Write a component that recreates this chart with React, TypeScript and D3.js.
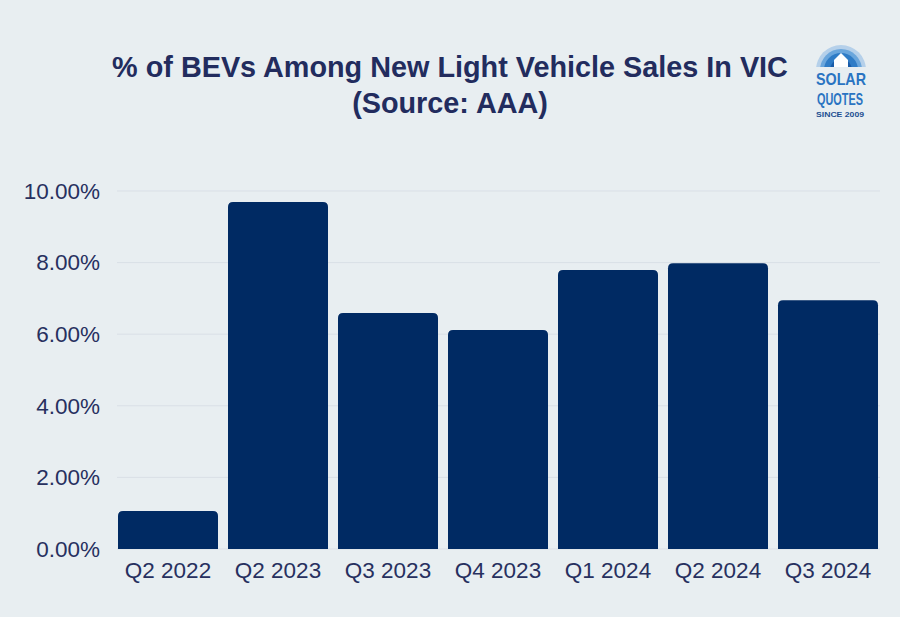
import React from "react";
import * as d3 from "d3";

const categories = ["Q2 2022", "Q2 2023", "Q3 2023", "Q4 2023", "Q1 2024", "Q2 2024", "Q3 2024"];
const values = [1.06, 9.69, 6.59, 6.12, 7.79, 7.98, 6.95];
const yTicks = [0, 2, 4, 6, 8, 10];
const titleLines = ["% of BEVs Among New Light Vehicle Sales In VIC", "(Source: AAA)"];

const W = 900, H = 617;
const BG = "#e8eef1";
const BAR = "#002a63";
const TXT = "#27305f";

function roundedTopBar(x: number, y: number, w: number, h: number, r: number) {
  const rr = Math.min(r, h / 2, w / 2);
  return `M${x},${y + h}V${y + rr}Q${x},${y} ${x + rr},${y}H${x + w - rr}Q${x + w},${y} ${x + w},${y + rr}V${y + h}Z`;
}

export default function App() {
  const x = d3.scaleBand<string>().domain(categories).range([113, 883]).paddingInner(10 / 110).paddingOuter(5 / 110);
  const y = d3.scaleLinear().domain([0, 10]).range([549, 191]);
  return (
    <svg width={W} height={H} style={{ position: "absolute", left: 0, top: 0, display: "block" }}>
      <rect x={0} y={0} width={W} height={H} fill={BG} />
      {titleLines.map((t, i) => (
        <text key={i} x={450} y={77 + i * 36} textAnchor="middle" fontFamily="Liberation Sans, Arial, sans-serif" fontWeight="bold" fontSize={28.8} fill="#222c5e">{t}</text>
      ))}
      {/* logo */}
      <g>
        <defs>
          <clipPath id="dome"><rect x={810} y={40} width={66} height={27} /></clipPath>
        </defs>
        <g clipPath="url(#dome)">
          <circle cx={841} cy={70} r={25} fill="#b5d0ea" />
          <circle cx={841} cy={70} r={21} fill="#6aa6dc" />
          <circle cx={841} cy={70} r={17} fill="#2f7cc6" />
          <circle cx={841} cy={70} r={11} fill="#1a5ca8" />
        </g>
        <path d="M834,67V60L841,53L848,60V67Z" fill="#ffffff" />
        <text x={816} y={85} textLength={50} lengthAdjust="spacingAndGlyphs" fontFamily="Liberation Sans Narrow, Liberation Sans, sans-serif" fontWeight="bold" fontSize={17} fill="#2a74c2">SOLAR</text>
        <text x={817} y={105} textLength={46} lengthAdjust="spacingAndGlyphs" fontFamily="Liberation Sans Narrow, Liberation Sans, sans-serif" fontWeight="bold" fontSize={17} fill="#2a74c2">QUOTES</text>
        <text x={816} y={117} textLength={48} lengthAdjust="spacingAndGlyphs" fontFamily="Liberation Sans, sans-serif" fontWeight="bold" fontSize={7.5} fill="#1d4f91">SINCE 2009</text>
      </g>
      {yTicks.map((t) => (
        <g key={t}>
          <line x1={117} x2={880} y1={y(t)} y2={y(t)} stroke="#d9dfe6" strokeWidth={1} />
          <text x={100} y={y(t)} dy="0.35em" textAnchor="end" fontFamily="Liberation Sans, Arial, sans-serif" fontSize={22.5} fill={TXT}>{t.toFixed(2)}%</text>
        </g>
      ))}
      {categories.map((c, i) => (
        <g key={c}>
          <path d={roundedTopBar(x(c)!, y(values[i]), x.bandwidth(), y(0) - y(values[i]), 5)} fill={BAR} />
          <text x={x(c)! + x.bandwidth() / 2} y={578} textAnchor="middle" fontFamily="Liberation Sans, Arial, sans-serif" fontSize={22.5} fill={TXT}>{c}</text>
        </g>
      ))}
    </svg>
  );
}
